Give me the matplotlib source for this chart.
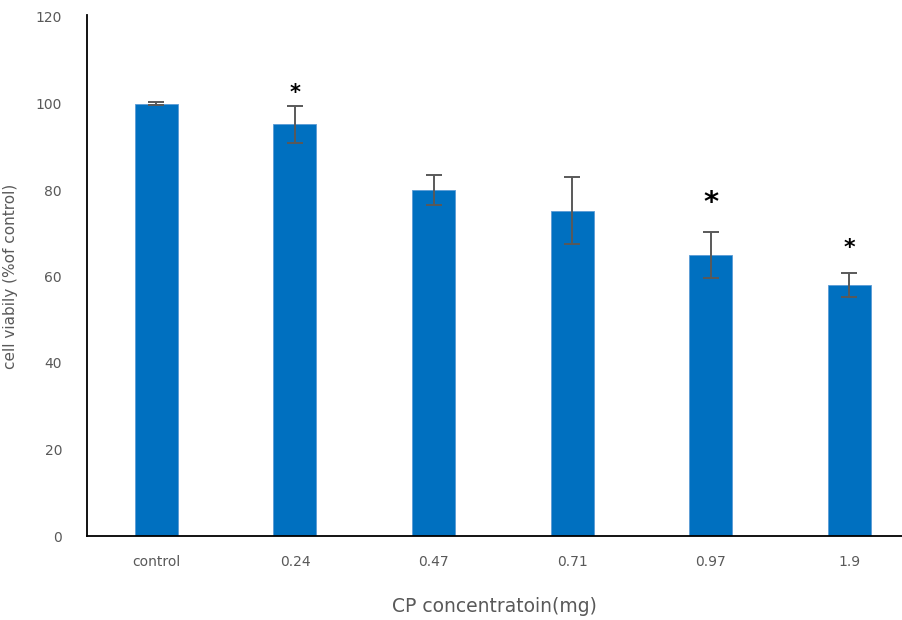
import matplotlib.pyplot as plt

categories = ['control', '0.24', '0.47', '0.71', '0.97', '1.9']
viability = [100, 95.2, 80, 75.2, 65, 58]
errors = [0.3, 4.3, 3.4, 7.8, 5.4, 2.8]
star_labels = ['', '*', '', '', '*', '*']
star_heights = [0, 102.5, 0, 0, 77.0, 66.5]
star_sizes = [0, 15, 0, 0, 21, 16]

bar_color = '#0070C0'
grey = '#595959'

fig = plt.figure(figsize=(9.02, 6.2), dpi=100)
ax = fig.add_axes([87 / 902, 84 / 620, 1 - 87 / 902, 519 / 620])

x = list(range(len(categories)))
ax.bar(x, viability, width=0.31, color=bar_color, edgecolor='#5B9BD5', linewidth=0.6,
       yerr=errors, error_kw=dict(ecolor=grey, elinewidth=1.4, capsize=6, capthick=1.4))

for i, s in enumerate(star_labels):
    if s:
        ax.text(x[i], star_heights[i], s, ha='center', va='center',
                fontsize=star_sizes[i], color='black', fontweight='bold')

ax.set_xlim(-0.5, (902 - 156.5) / 138.6)
ax.set_ylim(0, 120)
ax.set_yticks(range(0, 121, 20))
ax.set_xticks(x)
ax.set_xticklabels(categories)
ax.tick_params(axis='both', length=0, colors=grey, labelsize=10)
ax.tick_params(axis='y', pad=18)
ax.tick_params(axis='x', pad=14)

for side in ['top', 'right']:
    ax.spines[side].set_visible(False)
ax.spines['left'].set_color('black')
ax.spines['bottom'].set_color('black')
ax.spines['left'].set_linewidth(1.3)
ax.spines['bottom'].set_linewidth(1.3)
ax.spines['left'].set_bounds(0, 120.5)

ax.set_xlabel('CP concentratoin(mg)', fontsize=13.5, color=grey, labelpad=20)
ax.set_ylabel('cell viabily (%of control)', fontsize=11, color=grey)
ax.yaxis.set_label_coords(-69 / 815, 0.5)

fig.savefig('out.png', dpi=100)
